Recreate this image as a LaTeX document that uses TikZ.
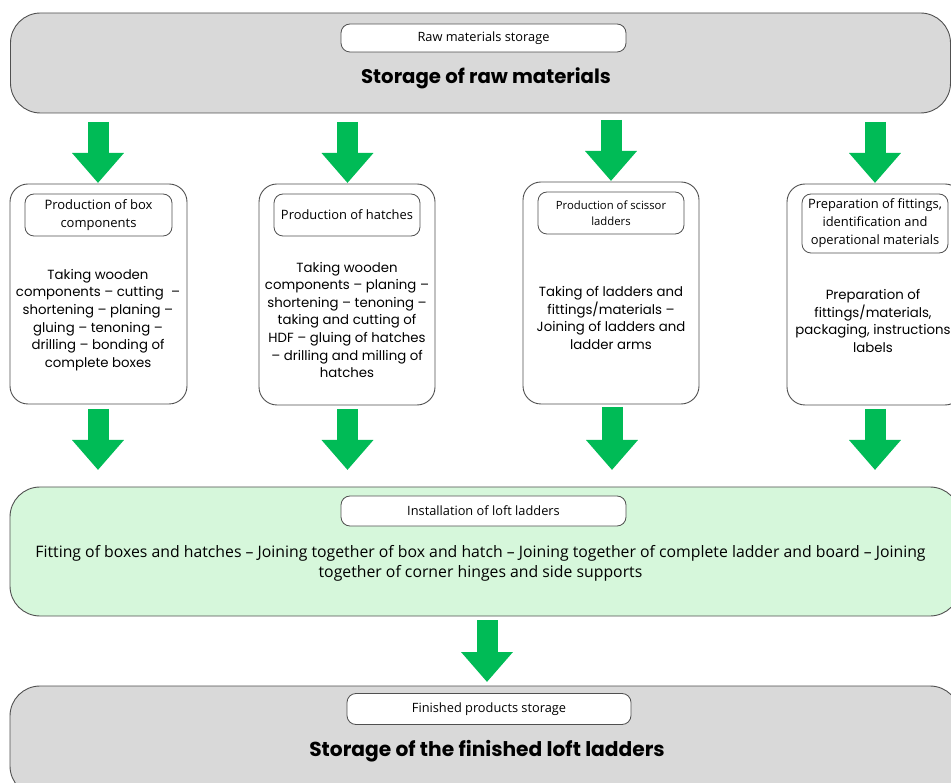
\documentclass[tikz,border=0pt]{standalone}
\usepackage{fontspec}
\setmainfont{Open Sans}
\newfontfamily\bodyfont{Poppins}
\usetikzlibrary{arrows.meta}
\definecolor{arrowgreen}{RGB}{0,187,86}
\definecolor{boxgray}{RGB}{217,217,217}
\definecolor{mint}{RGB}{214,247,219}
\definecolor{edge}{RGB}{80,80,80}
\tikzset{
  bigbox/.style={draw=edge, line width=0.9pt, rounded corners=30pt, fill=boxgray, inner sep=0pt},
  colbox/.style={draw=edge, line width=0.9pt, rounded corners=18pt, fill=white, inner sep=0pt},
  labbox/.style={draw=edge, line width=0.8pt, rounded corners=9pt, fill=white, align=center, inner sep=0pt},
  bodytxt/.style={align=center, font=\bodyfont\fontsize{13.3}{17.6}\selectfont, inner sep=0pt},
  titletxt/.style={font=\bodyfont\bfseries\fontsize{19.7}{22}\selectfont, inner sep=0pt},
  bigarrow/.style={draw=arrowgreen, line width=21pt, -{Triangle[width=50pt,length=30pt]}},
}
\begin{document}
\begin{tikzpicture}[x=1pt,y=-1pt]
\useasboundingbox (0,0) rectangle (951,783);
\clip (0,0) rectangle (951,783);
% top storage
\node[bigbox, minimum width=940pt, minimum height=100pt] (top) at (480.5,63) {};
\node[labbox, minimum width=285pt, minimum height=28pt, font=\fontsize{12.8}{15}\selectfont] (toplab) at (483.5,38) {Raw materials storage};
\node[titletxt] (toptitle) at (486,78) {Storage of raw materials};
% columns
\node[colbox, minimum width=177pt, minimum height=220pt] (c1) at (98.5,294) {};
\node[labbox, minimum width=147pt, minimum height=42pt, font=\fontsize{13}{18}\selectfont] (c1lab) at (98.5,215) {Production of box\\components};
\node[bodytxt] (c1txt) at (98,320) {Taking wooden\\components – cutting~ –\\shortening – planing –\\gluing – tenoning –\\drilling – bonding of\\complete boxes};
\node[colbox, minimum width=176pt, minimum height=221pt] (c2) at (347,294.5) {};
\node[labbox, minimum width=146pt, minimum height=42pt, font=\fontsize{12.9}{18}\selectfont] (c2lab) at (347,215) {Production of hatches};
\node[bodytxt] (c2txt) at (347,320) {Taking wooden\\components – planing –\\shortening – tenoning –\\taking and cutting of\\HDF – gluing of hatches\\– drilling and milling of\\hatches};
\node[colbox, minimum width=176pt, minimum height=222pt] (c3) at (611,293) {};
\node[labbox, minimum width=146pt, minimum height=42pt, font=\fontsize{11.3}{16}\selectfont] (c3lab) at (611,213) {Production of scissor\\ladders};
\node[bodytxt] (c3txt) at (611,318) {Taking of ladders and\\fittings/materials –\\Joining of ladders and\\ladder arms};
\node[colbox, minimum width=176pt, minimum height=221pt] (c4) at (875,294.5) {};
\node[labbox, minimum width=146pt, minimum height=59pt, font=\fontsize{12.9}{18}\selectfont] (c4lab) at (875,223.5) {Preparation of fittings,\\identification and\\operational materials};
\node[bodytxt] (c4txt) at (873,321) {Preparation of\\fittings/materials,\\packaging, instructions\\labels};
% installation
\node[bigbox, fill=mint, minimum width=950pt, minimum height=129pt] (inst) at (485,551.5) {};
\node[labbox, minimum width=285pt, minimum height=30pt, font=\fontsize{12.8}{15}\selectfont] (instlab) at (483.5,511) {Installation of loft ladders};
\node[align=center, inner sep=0pt, font=\fontsize{15.8}{20}\selectfont] (insttxt) at (480.5,563) {Fitting of boxes and hatches – Joining together of box and hatch – Joining together of complete ladder and board – Joining\\together of corner hinges and side supports};
% finished storage
\node[bigbox, minimum width=950pt, minimum height=110pt] (fin) at (485,741) {};
\node[labbox, minimum width=284pt, minimum height=31pt, font=\fontsize{12.8}{15}\selectfont] (finlab) at (489,709) {Finished products storage};
\node[titletxt, font=\bodyfont\bfseries\fontsize{20.2}{24}\selectfont] (fintitle) at (487,751) {Storage of the finished loft ladders};
% arrows
\coordinate (a1s) at (98,122);  \coordinate (a1e) at (98,183);
\coordinate (a2s) at (347.5,122); \coordinate (a2e) at (347.5,183);
\coordinate (a3s) at (611,120); \coordinate (a3e) at (611,181);
\coordinate (a4s) at (875,122); \coordinate (a4e) at (875,183);
\coordinate (b1s) at (98,409);  \coordinate (b1e) at (98,470);
\coordinate (b2s) at (347.5,409); \coordinate (b2e) at (347.5,470);
\coordinate (b3s) at (612,407); \coordinate (b3e) at (612,470);
\coordinate (b4s) at (875,409); \coordinate (b4e) at (875,470);
\coordinate (cs) at (487,620); \coordinate (ce) at (487,682);
\foreach \s/\e in {a1s/a1e,a2s/a2e,a3s/a3e,a4s/a4e,b1s/b1e,b2s/b2e,b3s/b3e,b4s/b4e,cs/ce}
  \draw[bigarrow] (\s) -- (\e);
\end{tikzpicture}
\end{document}
